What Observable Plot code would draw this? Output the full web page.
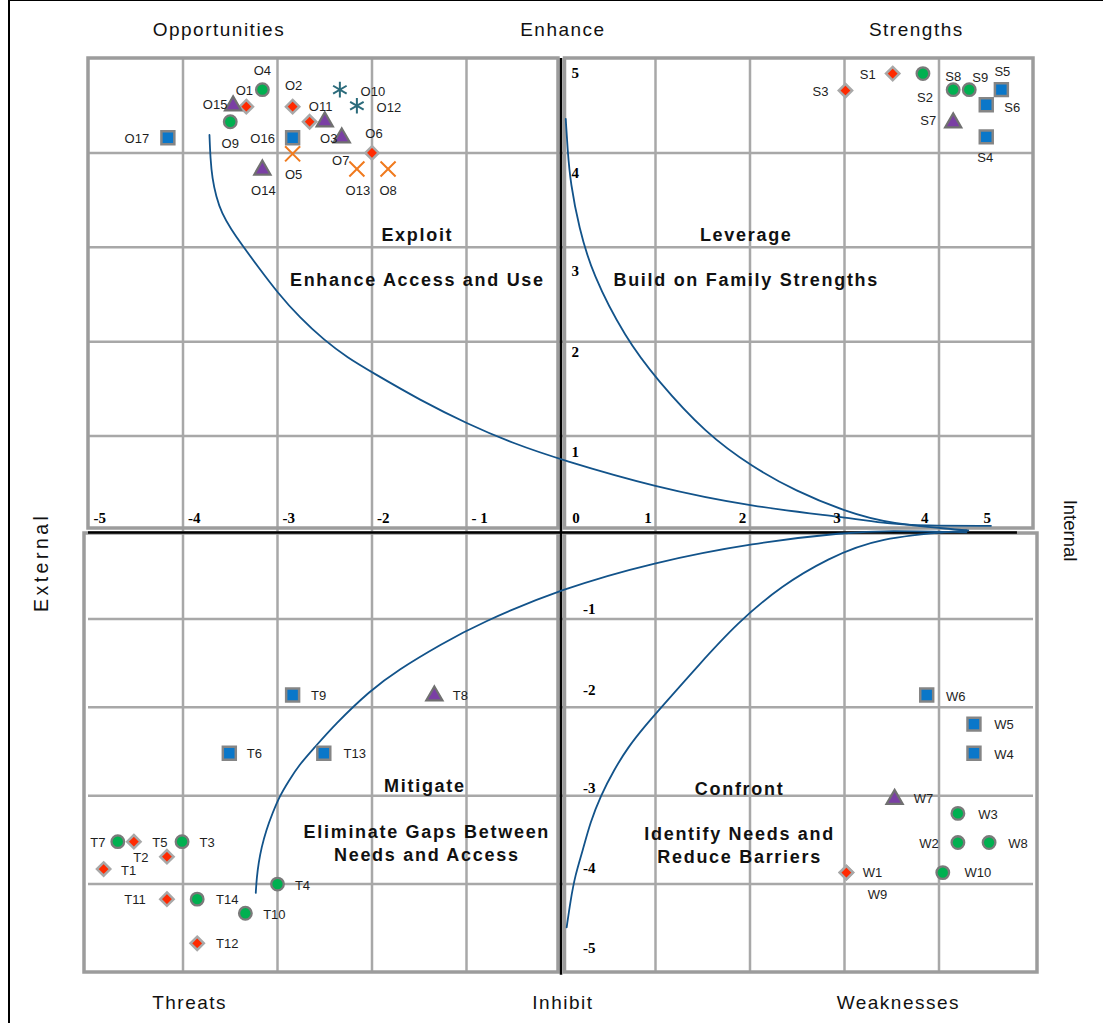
<!DOCTYPE html>
<html><head><meta charset="utf-8">
<script src="https://cdn.jsdelivr.net/npm/d3@7"></script>
<script src="https://cdn.jsdelivr.net/npm/@observablehq/plot@0.6"></script>
<style>
html,body{margin:0;padding:0;background:#fff;}
#wrap{position:relative;width:1103px;height:1023px;overflow:hidden;}
#frame{position:absolute;left:8px;top:0;width:1200px;height:1200px;border-left:2px solid #000;border-top:1.5px solid #000;pointer-events:none;}
</style></head>
<body><div id="wrap"><div id="frame"></div></div>
<script>
// ---------- data ----------
const opportunities = [
  {id:"O1", x:-3.33, y:4.49, shape:"diamond"},
  {id:"O2", x:-2.84, y:4.49, shape:"diamond"},
  {id:"O3", x:-2.50, y:4.33, shape:"triangle"},
  {id:"O4", x:-3.16, y:4.67, shape:"circle"},
  {id:"O5", x:-2.84, y:3.99, shape:"times"},
  {id:"O6", x:-2.00, y:4.00, shape:"diamond"},
  {id:"O7", x:-2.32, y:4.16, shape:"triangle"},
  {id:"O8", x:-1.83, y:3.83, shape:"times"},
  {id:"O9", x:-3.50, y:4.33, shape:"circle"},
  {id:"O10", x:-2.34, y:4.67, shape:"asterisk"},
  {id:"O11", x:-2.66, y:4.33, shape:"diamond"},
  {id:"O12", x:-2.16, y:4.50, shape:"asterisk"},
  {id:"O13", x:-2.16, y:3.83, shape:"times"},
  {id:"O14", x:-3.16, y:3.82, shape:"triangle"},
  {id:"O15", x:-3.47, y:4.50, shape:"triangle"},
  {id:"O16", x:-2.84, y:4.16, shape:"square"},
  {id:"O17", x:-4.16, y:4.16, shape:"square"}
];
const strengths = [
  {id:"S1", x:3.51, y:4.84, shape:"diamond"},
  {id:"S2", x:3.83, y:4.84, shape:"circle"},
  {id:"S3", x:3.01, y:4.66, shape:"diamond"},
  {id:"S4", x:4.50, y:4.17, shape:"square"},
  {id:"S5", x:4.66, y:4.67, shape:"square"},
  {id:"S6", x:4.50, y:4.51, shape:"square"},
  {id:"S7", x:4.15, y:4.32, shape:"triangle"},
  {id:"S8", x:4.15, y:4.67, shape:"circle"},
  {id:"S9", x:4.32, y:4.67, shape:"circle"}
];
const threats = [
  {id:"T1", x:-4.84, y:-3.83, shape:"diamond"},
  {id:"T2", x:-4.17, y:-3.69, shape:"diamond"},
  {id:"T3", x:-4.01, y:-3.52, shape:"circle"},
  {id:"T4", x:-3.00, y:-4.00, shape:"circle"},
  {id:"T5", x:-4.52, y:-3.52, shape:"diamond"},
  {id:"T6", x:-3.51, y:-2.52, shape:"square"},
  {id:"T7", x:-4.69, y:-3.52, shape:"circle"},
  {id:"T8", x:-1.34, y:-1.87, shape:"triangle"},
  {id:"T9", x:-2.84, y:-1.86, shape:"square"},
  {id:"T10", x:-3.34, y:-4.33, shape:"circle"},
  {id:"T11", x:-4.17, y:-4.17, shape:"diamond"},
  {id:"T12", x:-3.85, y:-4.67, shape:"diamond"},
  {id:"T13", x:-2.51, y:-2.52, shape:"square"},
  {id:"T14", x:-3.85, y:-4.17, shape:"circle"}
];
const weaknesses = [
  {id:"W9", x:3.02, y:-3.87, shape:"diamond"},
  {id:"W1", x:3.02, y:-3.87, shape:"diamond"},
  {id:"W2", x:4.20, y:-3.53, shape:"circle"},
  {id:"W3", x:4.20, y:-3.20, shape:"circle"},
  {id:"W4", x:4.37, y:-2.52, shape:"square"},
  {id:"W5", x:4.37, y:-2.19, shape:"square"},
  {id:"W6", x:3.87, y:-1.86, shape:"square"},
  {id:"W7", x:3.53, y:-3.04, shape:"triangle"},
  {id:"W8", x:4.53, y:-3.53, shape:"circle"},
  {id:"W10", x:4.04, y:-3.87, shape:"circle"}
];

// curves
const curveExploit = [[-3.72,4.19],[-3.71,3.94],[-3.69,3.73],[-3.65,3.54],[-3.59,3.36],[-3.49,3.19],[-3.38,3.03],[-3.21,2.80],[-3.00,2.52],[-2.76,2.25],[-2.51,2.02],[-2.26,1.83],[-1.99,1.67],[-1.49,1.38],[-0.99,1.13],[-0.50,0.92],[0.00,0.75],[0.99,0.46],[2.03,0.25],[3.01,0.14],[3.47,0.07],[3.83,0.05],[4.55,0.05]];
const curveLeverage = [[0.05,4.36],[0.07,4.03],[0.10,3.68],[0.19,3.21],[0.33,2.72],[0.68,2.04],[1.02,1.59],[1.53,1.03],[2.03,0.67],[2.48,0.42],[3.01,0.20],[3.47,0.07],[4.31,0.00]];
const curveMitigate = [[-3.23,-4.10],[-3.22,-3.93],[-3.20,-3.76],[-3.17,-3.59],[-3.12,-3.39],[-3.05,-3.19],[-2.98,-3.01],[-2.88,-2.83],[-2.77,-2.65],[-2.62,-2.47],[-2.39,-2.19],[-2.02,-1.81],[-1.73,-1.58],[-1.26,-1.28],[-0.86,-1.05],[0.00,-0.66],[0.98,-0.36],[2.03,-0.14],[3.03,-0.02],[3.45,0.00],[4.29,-0.02]];
const curveConfront = [[0.06,-4.49],[0.10,-4.19],[0.15,-3.90],[0.23,-3.62],[0.31,-3.30],[0.42,-3.00],[0.56,-2.71],[0.71,-2.45],[0.89,-2.21],[1.07,-1.99],[1.45,-1.53],[1.87,-1.04],[2.34,-0.62],[2.82,-0.32],[3.35,-0.08],[4.29,0.00]];

// tick labels
const xTickLeftLabels = ["-5","-4","-3","-2","- 1"];
const xTickLeftValues = [-5,-4,-3,-2,-1];
const xTickRightLabels = ["0","1","2","3","4","5"];
const xTickRightAt = [0.16,0.92,1.92,2.92,3.85,4.51];
const yTickTopLabels = ["5","4","3","2","1"];
const yTickTopAt = [4.84,3.79,2.75,1.89,0.83];
const yTickBottomLabels = ["-1","-2","-3","-4","-5"];
const yTickBottomAt = [-0.89,-1.81,-2.92,-3.82,-4.72];

// titles & notes
const cornerTitles = [
  {text:"Opportunities", x:-3.62, y:5.30},
  {text:"Enhance", x:0.02, y:5.30},
  {text:"Strengths", x:3.76, y:5.30},
  {text:"Threats", x:-3.93, y:-5.34},
  {text:"Inhibit", x:0.02, y:-5.34},
  {text:"Weaknesses", x:3.57, y:-5.34}
];
const quadNotes = [
  {text:"Exploit", x:-1.52, y:3.15},
  {text:"Enhance Access and Use", x:-1.52, y:2.67},
  {text:"Leverage", x:1.96, y:3.15},
  {text:"Build on Family Strengths", x:1.96, y:2.67},
  {text:"Mitigate", x:-1.44, y:-2.88},
  {text:"Eliminate Gaps Between\nNeeds and Access", x:-1.42, y:-3.52},
  {text:"Confront", x:1.89, y:-2.91},
  {text:"Identify Needs and\nReduce Barriers", x:1.89, y:-3.55}
];
const sideTitles = [
  {text:"External", x:-5.49, y:-0.36},
  {text:"Internal", x:5.39, y:0.0}
];

// label placement (pixel offsets from marker)
const labelOffset = {
 O1:[-2,-16], O2:[1,-21], O3:[4,17], O4:[0,-19], O5:[1,21], O6:[2,-19], O7:[-1,23], O8:[0,22], O9:[0,22],
 O10:[33,2], O11:[11,-15], O12:[32,2], O13:[1,22], O14:[1,21], O15:[-18,-1], O16:[-30,1], O17:[-31,1],
 S1:[-25,1], S2:[2,24], S3:[-25,1], S4:[-1,21], S5:[1,-18], S6:[26,3], S7:[-25,-2], S8:[0,-13], S9:[11,-12],
 T1:[25,2], T2:[-26,1], T3:[25,1], T4:[25,2], T5:[26,1], T6:[25,1], T7:[-20,1], T8:[26,0], T9:[26,1],
 T10:[29,2], T11:[-32,1], T12:[30,1], T13:[31,1], T14:[30,1],
 W1:[26,0], W2:[-29,1], W3:[30,1], W4:[30,2], W5:[30,1], W6:[29,2], W7:[29,0], W8:[29,1], W9:[31,22], W10:[35,0]
};

const shapeStyle = {
  diamond:  {symbol:"diamond2", r:6.0, fill:"#ff2a00", stroke:"#a8a8a8", sw:2.5},
  circle:   {symbol:"circle",   r:6.3, fill:"#00b050", stroke:"#7a7a7a", sw:2.3},
  square:   {symbol:"square",   r:7.3, fill:"#0a77c9", stroke:"#858585", sw:2.5},
  triangle: {symbol:"triangle", r:6.0, fill:"#7a3fa4", stroke:"#707070", sw:2.2},
  asterisk: {symbol:"asterisk", r:7.4, fill:"none",    stroke:"#2b6b7b", sw:2.0},
  times:    {symbol:"times",    r:6.9, fill:"none",    stroke:"#f07a1e", sw:2.0}
};

// ---------- build ----------
const allPoints = [...opportunities, ...strengths, ...threats, ...weaknesses];
const curves = [
  ...curveExploit.map(([x,y]) => ({curve:"exploit", x, y})),
  ...curveLeverage.map(([x,y]) => ({curve:"leverage", x, y})),
  ...curveMitigate.map(([x,y]) => ({curve:"mitigate", x, y})),
  ...curveConfront.map(([x,y]) => ({curve:"confront", x, y}))
];
const quadrants = [
  {x1:-5, x2:0, y1:0, y2:5, il:0, ir:2.5, it:0, ib:2},
  {x1:0, x2:5, y1:0, y2:5, il:4, ir:0, it:0, ib:2},
  {x1:-5, x2:0, y1:-5, y2:0, il:-4, ir:2.5, it:3, ib:0},
  {x1:0, x2:5, y1:-5, y2:0, il:4, ir:-4, it:3, ib:0}
];
const inner = [-4,-3,-2,-1,1,2,3,4];
const gridColor = "#a8a8a8";
const frameColor = "#9c9c9c";
const sans = "'Liberation Sans', Arial, sans-serif";
const serif = "'Liberation Serif', 'Times New Roman', serif";

const marks = [];
// grid
inner.forEach(v => {
  marks.push(Plot.ruleX([v], {y1:0, y2:5, stroke:gridColor, strokeWidth:2.5}));
  marks.push(Plot.ruleX([v], {y1:-5, y2:0, stroke:gridColor, strokeWidth:2.5}));
  marks.push(Plot.ruleY([v], {x1:-5, x2:0, stroke:gridColor, strokeWidth:2.5}));
  marks.push(Plot.ruleY([v], {x1:0, x2:5, stroke:gridColor, strokeWidth:2.5}));
});
// quadrant frames
quadrants.forEach(q => {
  marks.push(Plot.rect([q], {x1:"x1", x2:"x2", y1:"y1", y2:"y2", fill:"none", stroke:frameColor, strokeWidth:3.5,
    insetLeft:q.il, insetRight:q.ir, insetTop:q.it, insetBottom:q.ib}));
});
// black axes
marks.push(Plot.ruleY([0], {x1:-5, x2:4.83, stroke:"#000", strokeWidth:2.5, dy:2}));
marks.push(Plot.ruleX([0], {y1:-5.03, y2:5, stroke:"#000", strokeWidth:2.5}));
// curves
marks.push(Plot.line(curves, {x:"x", y:"y", z:"curve", stroke:"#12538a", strokeWidth:1.8, curve:"basis"}));
// markers
Object.entries(shapeStyle).forEach(([k, s]) => {
  marks.push(Plot.dot(allPoints.filter(d => d.shape === k), {x:"x", y:"y", symbol:s.symbol, r:s.r,
    fill:s.fill, stroke:s.stroke, strokeWidth:s.sw}));
});
// point labels
allPoints.forEach(p => {
  const [dx, dy] = labelOffset[p.id] || [0, 0];
  marks.push(Plot.text([p], {x:"x", y:"y", text:"id", dx, dy, fontSize:13, fontFamily:sans, fill:"#1e1e1e"}));
});
// tick labels
marks.push(Plot.text(xTickLeftValues, {x:d => d, y:0.13, text:(d,i) => xTickLeftLabels[i], textAnchor:"start", dx:5,
  fontSize:15, fontWeight:"bold", fontFamily:serif, fill:"#000"}));
marks.push(Plot.text(xTickRightAt, {x:d => d, y:0.13, text:(d,i) => xTickRightLabels[i],
  fontSize:15, fontWeight:"bold", fontFamily:serif, fill:"#000"}));
marks.push(Plot.text(yTickTopAt, {x:0.15, y:d => d, text:(d,i) => yTickTopLabels[i],
  fontSize:15, fontWeight:"bold", fontFamily:serif, fill:"#000"}));
marks.push(Plot.text(yTickBottomAt, {x:0.30, y:d => d, text:(d,i) => yTickBottomLabels[i],
  fontSize:15, fontWeight:"bold", fontFamily:serif, fill:"#000"}));
// quadrant notes
marks.push(Plot.text(quadNotes, {x:"x", y:"y", text:"text", fontSize:18, fontWeight:"bold", fontFamily:sans, fill:"#111", lineHeight:1.28}));
// corner titles
marks.push(Plot.text(cornerTitles, {x:"x", y:"y", text:"text", fontSize:19, fontFamily:sans, fill:"#111"}));
// side titles
marks.push(Plot.text([sideTitles[0]], {x:"x", y:"y", text:"text", rotate:-90, fontSize:19.5, fontFamily:sans, fill:"#111"}));
marks.push(Plot.text([sideTitles[1]], {x:"x", y:"y", text:"text", rotate:90, fontSize:18.5, fontFamily:sans, fill:"#111"}));

const chart = Plot.plot({
  width: 1103,
  height: 1023,
  marginTop: 0, marginRight: 0, marginBottom: 0, marginLeft: 0,
  x: {type:"linear", domain:[-5, 5], range:[88, 1033], axis:null},
  y: {type:"linear", domain:[-5, 0, 5], range:[972, 530, 58], axis:null},
  style: {background:"transparent", fontFamily:sans, overflow:"visible"},
  marks
});
// letter spacing per text group (style only)
const spacing = {"18": "1.7px", "19": "1.5px", "19.5": "3.5px"};
d3.select(chart).selectAll("g[font-size]").each(function() {
  const fs = this.getAttribute("font-size");
  if (spacing[fs]) this.style.letterSpacing = spacing[fs];
});
document.getElementById("wrap").insertBefore(chart, document.getElementById("frame"));
</script>
</body></html>
